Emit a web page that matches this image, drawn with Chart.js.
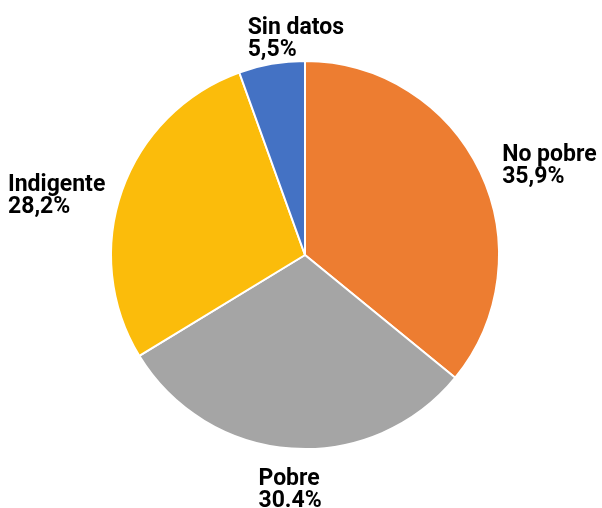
<!DOCTYPE html>
<html>
<head>
<meta charset="utf-8">
<script src="https://cdn.jsdelivr.net/npm/chart.js@4"></script>
<style>
  html, body { margin: 0; padding: 0; background: #fff; }
  #wrap { width: 602px; height: 508px; }
</style>
</head>
<body>
<div id="wrap"><canvas id="myChart"></canvas></div>
<script>
const categorias = ['No pobre', 'Pobre', 'Indigente', 'Sin datos']
const porcentajes = [35.9, 30.4, 28.2, 5.5]
const etiquetasPct = ['35,9%', '30.4%', '28,2%', '5,5%']
const colores = ['#ED7D31', '#A5A5A5', '#FBBC0B', '#4472C4']

// etiquetas fuera del pie, con un pequeño ajuste a mano por sector
const etiquetasFuera = {
    id: 'etiquetasFuera',
    afterDraw(chart, args, opts) {
        const ctx = chart.ctx
        const meta = chart.getDatasetMeta(0)
        ctx.save()
        ctx.font = 'bold 23px Roboto'
        ctx.fillStyle = '#000'
        ctx.textAlign = 'left'
        ctx.textBaseline = 'alphabetic'
        meta.data.forEach((arc, i) => {
            const lineas = [categorias[i], etiquetasPct[i]]
            const mid = (arc.startAngle + arc.endAngle) / 2
            const r = arc.outerRadius + opts.distancia
            const ax = arc.x + Math.cos(mid) * r
            const ay = arc.y + Math.sin(mid) * r
            const ancho = Math.max(...lineas.map((l) => ctx.measureText(l).width))
            const alto = opts.cap + opts.interlinea * (lineas.length - 1)
            let left, top
            const c = Math.cos(mid), s = Math.sin(mid)
            if (c > 0.3) { left = ax; top = ay - alto / 2 }
            else if (c < -0.3) { left = ax - ancho; top = ay - alto / 2 }
            else if (s > 0) { left = ax - ancho / 2; top = ay }
            else { left = ax - ancho / 2; top = ay - alto }
            const [dx, dy] = opts.ajustes[i]
            lineas.forEach((l, j) => {
                ctx.fillText(l, left + dx, top + dy + opts.cap + j * opts.interlinea)
            })
        })
        ctx.restore()
    }
}

const data = {
    labels: categorias,
    datasets: [{
        data: porcentajes,
        backgroundColor: colores,
        borderColor: '#ffffff',
        borderWidth: 2
    }]
}

const config = {
    type: 'pie',
    data: data,
    options: {
        responsive: true,
        maintainAspectRatio: false,
        animation: false,
        layout: { padding: { top: 60, bottom: 58, left: 110, right: 102 } },
        plugins: {
            legend: { display: false },
            tooltip: { enabled: false },
            etiquetasFuera: {
                distancia: 22,
                cap: 16,
                interlinea: 22,
                ajustes: [[2, 2], [0, -1], [4, 11], [28, 14]]
            }
        }
    },
    plugins: [etiquetasFuera]
}

new Chart(document.getElementById('myChart'), config)
</script>
</body>
</html>
